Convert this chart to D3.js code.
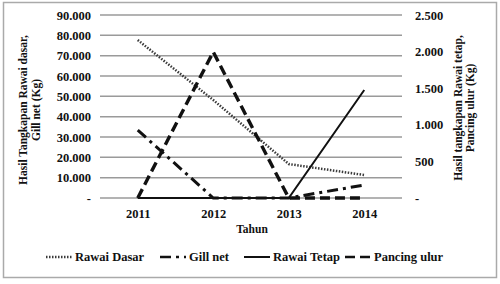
<!DOCTYPE html>
<html>
<head>
<meta charset="utf-8">
<script src="https://cdn.jsdelivr.net/npm/d3@7"></script>
<style>
  body { margin: 0; background: #fff; }
</style>
</head>
<body>
<div class="chart"></div>
<script>
var years = ['2011', '2012', '2013', '2014'];
var leftTicks = [0, 10000, 20000, 30000, 40000, 50000, 60000, 70000, 80000, 90000];
var rightTicks = [0, 500, 1000, 1500, 2000, 2500];
var rawaiDasar = [77700, 48200, 16700, 11300];
var gillNet = [33400, 0, 0, 6400];
var rawaiTetap = [0, 0, 0, 1475];
var pancingUlur = [0, 1995, 0, 0];

var width = 500,
    height = 284,
    area = { x1: 100, y1: 15, x2: 402, y2: 198 };

var svg = d3.select('.chart')
  .append('svg')
    .attr('width', width)
    .attr('height', height)
    .attr('font-family', 'Liberation Serif')
    .attr('font-weight', 'bold');

// outer frame
svg.append('rect')
  .attr('x', 3.5).attr('y', 2.5)
  .attr('width', 493).attr('height', 275)
  .attr('fill', 'none')
  .attr('stroke', '#aaa')
  .attr('stroke-width', 1.5);

var x = d3.scalePoint().domain(years).range([area.x1, area.x2]).padding(0.5);
var yLeft = d3.scaleLinear().domain([0, 90000]).range([area.y2, area.y1]);
var yRight = d3.scaleLinear().domain([0, 2500]).range([area.y2, area.y1]);

function fmt(d) {
  return d === 0 ? '-' : d3.format(',')(d).replace(/,/g, '.');
}

// gridlines
svg.append('g')
  .selectAll('line')
  .data(leftTicks)
  .enter().append('line')
    .attr('x1', area.x1).attr('x2', area.x2)
    .attr('y1', function(d) { return yLeft(d); })
    .attr('y2', function(d) { return yLeft(d); })
    .attr('stroke', '#9a9a9a')
    .attr('stroke-width', 1.5);

function styleAxis(g) {
  g.select('.domain').remove();
  g.attr('font-family', 'Liberation Serif').attr('font-size', 12.5);
  g.selectAll('text').attr('fill', '#111');
}

svg.append('g')
    .attr('transform', 'translate(' + area.x1 + ',0)')
    .call(d3.axisLeft(yLeft).tickValues(leftTicks).tickFormat(fmt).tickSize(0).tickPadding(9))
    .call(styleAxis);

svg.append('g')
    .attr('transform', 'translate(' + area.x2 + ',0)')
    .call(d3.axisRight(yRight).tickValues(rightTicks).tickFormat(fmt).tickSize(0).tickPadding(13))
    .call(styleAxis);

svg.append('g')
    .attr('transform', 'translate(0,' + area.y2 + ')')
    .call(d3.axisBottom(x).tickSize(0).tickPadding(11))
    .call(styleAxis);

svg.append('text')
  .attr('x', 252).attr('y', 233)
  .attr('text-anchor', 'middle')
  .attr('font-size', 11.5)
  .attr('fill', '#111')
  .text('Tahun');

// axis titles
var leftTitle = svg.append('text')
  .attr('transform', 'translate(27,110) rotate(-90)')
  .attr('text-anchor', 'middle')
  .attr('font-size', 11.5)
  .attr('fill', '#111');
leftTitle.append('tspan').attr('x', 0).attr('y', 0).text('Hasil Tangkapan Rawai dasar,');
leftTitle.append('tspan').attr('x', 0).attr('y', 13).text('Gill net (Kg)');

var rightTitle = svg.append('text')
  .attr('transform', 'translate(462,108) rotate(-90)')
  .attr('text-anchor', 'middle')
  .attr('font-size', 11.5)
  .attr('fill', '#111');
rightTitle.append('tspan').attr('x', 0).attr('y', 0).text('Hasil tangkapan Rawai tetap,');
rightTitle.append('tspan').attr('x', 0).attr('y', 12).text('Pancing ulur (Kg)');

var series = [
  { name: 'Rawai Dasar', values: rawaiDasar, y: yLeft, color: '#3a3a3a', width: 2.5, dash: '1.5,1.5' },
  { name: 'Gill net', values: gillNet, y: yLeft, color: '#111', width: 3, dash: '11,5,3,5' },
  { name: 'Rawai Tetap', values: rawaiTetap, y: yRight, color: '#111', width: 2, dash: null },
  { name: 'Pancing ulur', values: pancingUlur, y: yRight, color: '#111', width: 3.4, dash: '10,5' }
];

series.forEach(function(s) {
  var line = d3.line()
    .x(function(d, i) { return x(years[i]); })
    .y(function(d) { return s.y(d); });
  svg.append('path')
    .datum(s.values)
    .attr('d', line)
    .attr('fill', 'none')
    .attr('stroke', s.color)
    .attr('stroke-width', s.width)
    .attr('stroke-dasharray', s.dash);
});

// legend
var legendX = [46, 160, 244, 345];
var legend = svg.append('g').attr('transform', 'translate(0,257)');
var item = legend.selectAll('g')
  .data(series)
  .enter().append('g')
    .attr('transform', function(d, i) { return 'translate(' + legendX[i] + ',0)'; });
item.append('line')
  .attr('x1', 0).attr('x2', 26)
  .attr('y1', 0).attr('y2', 0)
  .attr('stroke', function(d) { return d.color; })
  .attr('stroke-width', function(d) { return Math.min(d.width, 2.5); })
  .attr('stroke-dasharray', function(d) { return d.dash; });
item.append('text')
  .attr('x', 29).attr('y', 4)
  .attr('font-size', 12.5)
  .attr('fill', '#111')
  .text(function(d) { return d.name; });
</script>
</body>
</html>
